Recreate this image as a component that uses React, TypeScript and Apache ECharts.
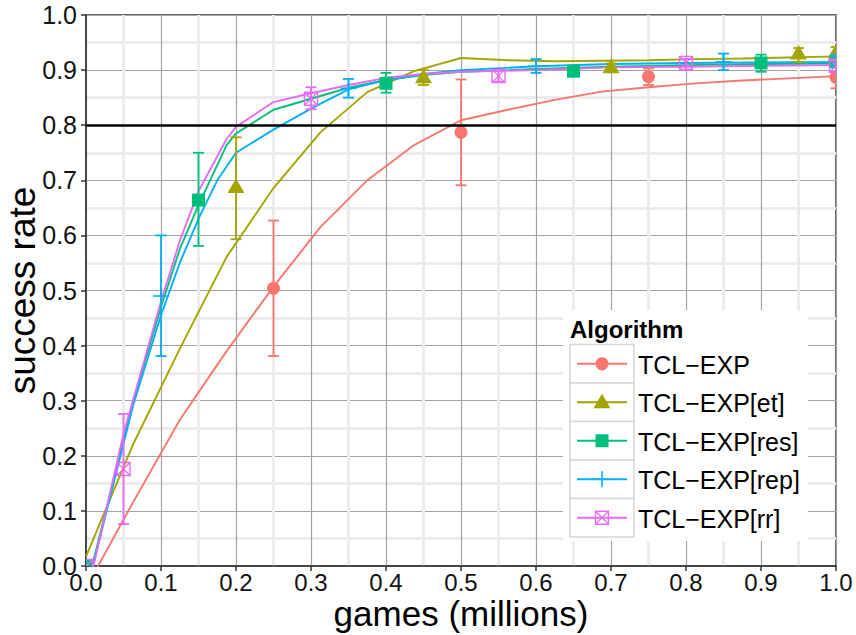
import { useEffect, useRef } from "react";
import * as echarts from "echarts";

// ---- data -------------------------------------------------------------
const algorithms = ["TCL−EXP", "TCL−EXP[et]", "TCL−EXP[res]", "TCL−EXP[rep]", "TCL−EXP[rr]"];
const colors = ["#F8766D", "#A3A500", "#00BF7D", "#00B0F6", "#E76BF3"];
const shapes = ["circle", "triangle", "square", "plus", "boxcross"];
const threshold = 0.8;

// fitted learning curves: games (millions) -> success rate
const expCurveX = [0, 0.0625, 0.125, 0.1875, 0.25, 0.3125, 0.375, 0.4375, 0.5, 0.5625, 0.625, 0.6875, 0.75, 0.8125, 0.875, 0.9375, 1.0];
const expCurveY = [-0.04, 0.115, 0.265, 0.39, 0.507, 0.615, 0.70, 0.764, 0.809, 0.828, 0.846, 0.861, 0.869, 0.876, 0.881, 0.885, 0.889];

const etCurveX = [0, 0.0625, 0.125, 0.1875, 0.25, 0.3125, 0.375, 0.4375, 0.5, 0.5625, 0.625, 0.6875, 0.75, 0.8125, 0.875, 0.9375, 1.0];
const etCurveY = [0.017, 0.22, 0.394, 0.561, 0.686, 0.787, 0.86, 0.898, 0.922, 0.918, 0.916, 0.917, 0.918, 0.92, 0.921, 0.923, 0.925];

const resCurveX = [0, 0.0625, 0.1, 0.125, 0.15, 0.1875, 0.2, 0.25, 0.3, 0.35, 0.4, 0.45, 0.5, 0.55, 0.6, 0.7, 0.8, 0.9, 1.0];
const resCurveY = [-0.045, 0.297, 0.47, 0.575, 0.655, 0.764, 0.785, 0.828, 0.848, 0.868, 0.882, 0.891, 0.897, 0.899, 0.902, 0.906, 0.909, 0.911, 0.912];

const repCurveX = [0, 0.0625, 0.1, 0.125, 0.15, 0.175, 0.2, 0.25, 0.3, 0.35, 0.4, 0.45, 0.5, 0.6, 0.7, 0.8, 0.9, 1.0];
const repCurveY = [-0.05, 0.29, 0.455, 0.55, 0.63, 0.70, 0.75, 0.792, 0.83, 0.865, 0.882, 0.893, 0.90, 0.907, 0.911, 0.913, 0.914, 0.915];

const rrCurveX = [0, 0.05, 0.0625, 0.1, 0.125, 0.15, 0.1875, 0.2, 0.25, 0.3, 0.35, 0.4, 0.45, 0.5, 0.6, 0.7, 0.8, 0.9, 1.0];
const rrCurveY = [-0.06, 0.24, 0.30, 0.48, 0.59, 0.68, 0.775, 0.797, 0.842, 0.858, 0.873, 0.886, 0.893, 0.897, 0.90, 0.905, 0.906, 0.908, 0.909];

// measured points with error bars
const expPointX = [0, 0.25, 0.5, 0.75, 1.0];
const expPointY = [0, 0.504, 0.787, 0.888, 0.887];
const expPointLo = [0, 0.381, 0.691, 0.873, 0.867];
const expPointHi = [0, 0.627, 0.883, 0.903, 0.907];

const etPointX = [0, 0.2, 0.45, 0.7, 0.95, 1.0];
const etPointY = [0, 0.688, 0.887, 0.905, 0.93, 0.932];
const etPointLo = [0, 0.593, 0.873, 0.898, 0.915, 0.922];
const etPointHi = [0, 0.778, 0.90, 0.912, 0.94, 0.942];

const resPointX = [0, 0.15, 0.4, 0.65, 0.9, 1.0];
const resPointY = [0, 0.664, 0.876, 0.898, 0.913, 0.915];
const resPointLo = [0, 0.581, 0.859, 0.89, 0.897, 0.905];
const resPointHi = [0, 0.75, 0.895, 0.906, 0.928, 0.925];

const repPointX = [0, 0.1, 0.35, 0.6, 0.85, 1.0];
const repPointY = [0, 0.49, 0.867, 0.907, 0.915, 0.917];
const repPointLo = [0, 0.381, 0.85, 0.895, 0.90, 0.907];
const repPointHi = [0, 0.60, 0.884, 0.92, 0.93, 0.927];

const rrPointX = [0, 0.05, 0.3, 0.55, 0.8, 1.0];
const rrPointY = [0, 0.176, 0.848, 0.889, 0.913, 0.908];
const rrPointLo = [0, 0.076, 0.829, 0.879, 0.90, 0.898];
const rrPointHi = [0, 0.276, 0.869, 0.901, 0.92, 0.918];

const curves = [
  [expCurveX, expCurveY],
  [etCurveX, etCurveY],
  [resCurveX, resCurveY],
  [repCurveX, repCurveY],
  [rrCurveX, rrCurveY],
];
const points = [
  [expPointX, expPointY, expPointLo, expPointHi],
  [etPointX, etPointY, etPointLo, etPointHi],
  [resPointX, resPointY, resPointLo, resPointHi],
  [repPointX, repPointY, repPointLo, repPointHi],
  [rrPointX, rrPointY, rrPointLo, rrPointHi],
];

// ---- drawing helpers ----------------------------------------------------
const FONT = "'Liberation Sans', Arial, Helvetica, sans-serif";

function markerShapes(shape: string, cx: number, cy: number, color: string): any[] {
  switch (shape) {
    case "circle":
      return [{ type: "circle", shape: { cx, cy, r: 6.5 }, style: { fill: color } }];
    case "triangle":
      return [{
        type: "polygon",
        shape: { points: [[cx, cy - 8.5], [cx + 8.5, cy + 6], [cx - 8.5, cy + 6]] },
        style: { fill: color },
      }];
    case "square":
      return [{ type: "rect", shape: { x: cx - 6.5, y: cy - 6.5, width: 13, height: 13 }, style: { fill: color } }];
    case "plus":
      return [
        { type: "line", shape: { x1: cx - 8, y1: cy, x2: cx + 8, y2: cy }, style: { stroke: color, lineWidth: 1.6 } },
        { type: "line", shape: { x1: cx, y1: cy - 8, x2: cx, y2: cy + 8 }, style: { stroke: color, lineWidth: 1.6 } },
      ];
    default:
      return [
        { type: "rect", shape: { x: cx - 6.5, y: cy - 6.5, width: 13, height: 13 }, style: { fill: "none", stroke: color, lineWidth: 1.4 } },
        { type: "line", shape: { x1: cx - 6.5, y1: cy - 6.5, x2: cx + 6.5, y2: cy + 6.5 }, style: { stroke: color, lineWidth: 1.2 } },
        { type: "line", shape: { x1: cx + 6.5, y1: cy - 6.5, x2: cx - 6.5, y2: cy + 6.5 }, style: { stroke: color, lineWidth: 1.2 } },
      ];
  }
}

function buildOption() {
  const series: any[] = [];
  algorithms.forEach((name, i) => {
    const color = colors[i];
    const [cx, cy] = curves[i];
    series.push({
      name,
      type: "line",
      data: cx.map((x, k) => [x, cy[k]]),
      showSymbol: false,
      symbol: "none",
      lineStyle: { color, width: 1.9 },
      clip: true,
      z: 2,
    });
    const [px, py, lo, hi] = points[i];
    series.push({
      name,
      type: "custom",
      clip: true,
      z: 3,
      dimensions: ["x", "y", "lo", "hi"],
      encode: { x: 0, y: 1 },
      data: px.map((x, k) => [x, py[k], lo[k], hi[k]]),
      renderItem: (_params: any, api: any) => {
        const x = api.value(0);
        const y = api.value(1);
        const l = api.value(2);
        const h = api.value(3);
        const c = api.coord([x, y]);
        const children: any[] = [];
        if (h > l) {
          const top = api.coord([x, h])[1];
          const bot = api.coord([x, l])[1];
          const st = { stroke: color, lineWidth: 1.8 };
          children.push({ type: "line", shape: { x1: c[0], y1: top, x2: c[0], y2: bot }, style: st });
          children.push({ type: "line", shape: { x1: c[0] - 5.5, y1: top, x2: c[0] + 5.5, y2: top }, style: st });
          children.push({ type: "line", shape: { x1: c[0] - 5.5, y1: bot, x2: c[0] + 5.5, y2: bot }, style: st });
        }
        children.push(...markerShapes(shapes[i], c[0], c[1], color));
        return { type: "group", children };
      },
    });
  });

  // success threshold
  series.push({
    type: "line",
    data: [],
    z: 4,
    markLine: {
      silent: true,
      symbol: "none",
      label: { show: false },
      lineStyle: { color: "#000", width: 2.5, type: "solid" },
      data: [{ yAxis: threshold }],
    },
  });

  // legend drawn inside the panel
  const legendLeft = 570;
  const keyTop = 344.5;
  const keyH = 38.5;
  const keyW = 64;
  const graphic: any[] = [
    { type: "rect", z: 100, shape: { x: 563, y: 310, width: 245, height: 231 }, style: { fill: "#fff" } },
    {
      type: "text", z: 101, x: legendLeft, y: 329,
      style: { text: "Algorithm", fontFamily: FONT, fontSize: 24, fontWeight: "bold", fill: "#000", verticalAlign: "middle" },
    },
  ];
  algorithms.forEach((name, i) => {
    const top = keyTop + i * keyH;
    const cy = top + keyH / 2;
    const mid = legendLeft + keyW / 2;
    graphic.push({
      type: "rect", z: 101,
      shape: { x: legendLeft, y: top, width: keyW, height: keyH },
      style: { fill: "#fff", stroke: "#d6d6d6", lineWidth: 1.5 },
    });
    graphic.push({
      type: "line", z: 102,
      shape: { x1: legendLeft + 7, y1: cy, x2: legendLeft + keyW - 7, y2: cy },
      style: { stroke: colors[i], lineWidth: 2 },
    });
    markerShapes(shapes[i], mid, cy, colors[i]).forEach((el) => graphic.push({ ...el, z: 103 }));
    graphic.push({
      type: "text", z: 102, x: legendLeft + keyW + 4, y: cy + 1,
      style: { text: name, fontFamily: FONT, fontSize: 25, fill: "#000", verticalAlign: "middle" },
    });
  });

  const axisCommon = {
    type: "value",
    min: 0,
    max: 1,
    interval: 0.1,
    axisLine: { show: true, lineStyle: { color: "#333", width: 1.5 } },
    axisTick: { show: true, length: 5, lineStyle: { color: "#333", width: 1.5 } },
    splitLine: { show: true, lineStyle: { color: "#a3a3a3", width: 1.2 } },
    minorTick: { show: false, splitNumber: 2 },
    minorSplitLine: { show: true, lineStyle: { color: "#ececec", width: 3 } },
    nameMoveOverlap: false,
  };

  return {
    animation: false,
    textStyle: { fontFamily: FONT },
    grid: {
      left: 86, top: 15, width: 750, height: 551,
      outerBoundsMode: "none",
      containLabel: false,
      show: true, borderColor: "#333", borderWidth: 1.5, backgroundColor: "transparent",
    },
    xAxis: {
      ...axisCommon,
      name: "games (millions)",
      nameLocation: "middle",
      nameGap: 30,
      nameTextStyle: { fontFamily: FONT, fontSize: 35, color: "#000" },
      axisLabel: { fontFamily: FONT, fontSize: 24, color: "#111", margin: 4, formatter: (v: number) => v.toFixed(1) },
    },
    yAxis: {
      ...axisCommon,
      name: "success rate",
      nameLocation: "middle",
      nameGap: 45,
      nameTextStyle: { fontFamily: FONT, fontSize: 37, color: "#000" },
      axisLabel: { fontFamily: FONT, fontSize: 25, color: "#111", margin: 9, formatter: (v: number) => v.toFixed(1) },
    },
    series,
    graphic,
  };
}

export default function App() {
  const ref = useRef<HTMLDivElement>(null);
  useEffect(() => {
    if (!ref.current) return;
    const chart = echarts.init(ref.current, undefined, { renderer: "svg" });
    chart.setOption(buildOption() as any);
    return () => chart.dispose();
  }, []);
  return (
    <div
      ref={ref}
      style={{ position: "fixed", left: 0, top: 0, width: 856, height: 635, background: "#fff" }}
    />
  );
}
